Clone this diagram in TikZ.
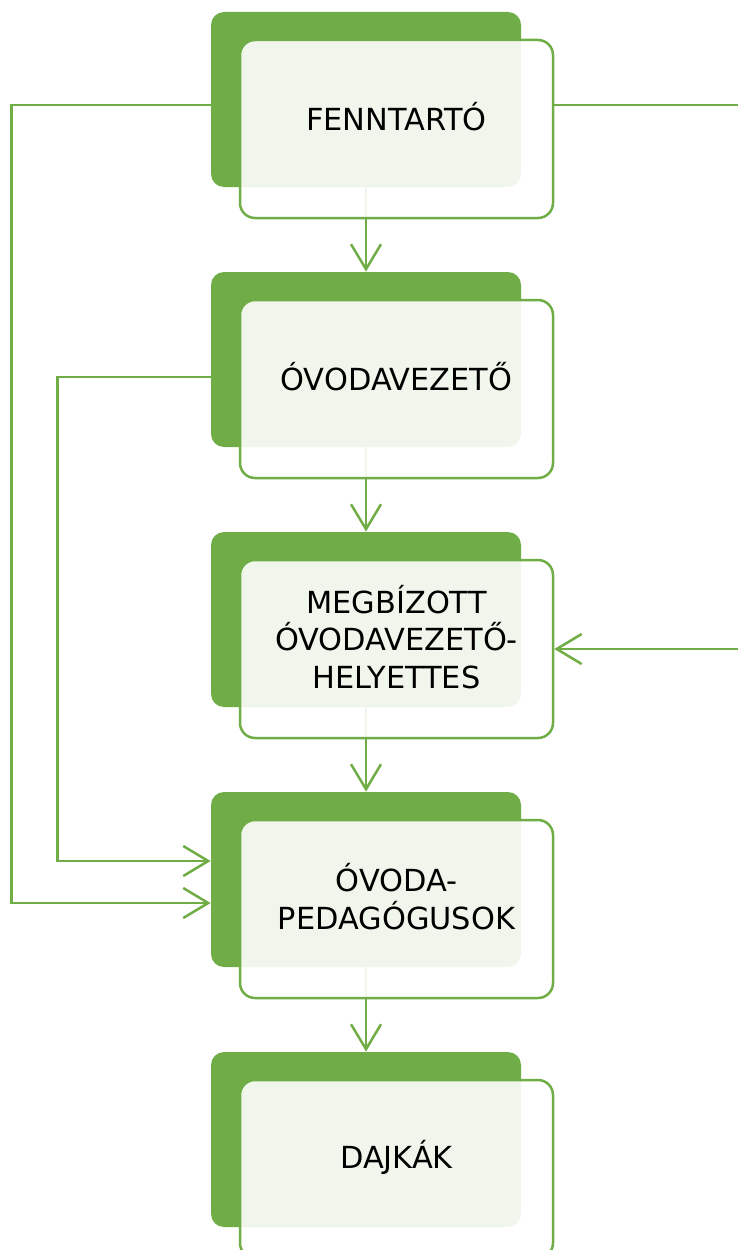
\documentclass[tikz,border=0pt]{standalone}
\usepackage{fontspec}
\setmainfont{DejaVu Sans}
\usepackage{tikz}
\usetikzlibrary{arrows.meta, positioning}
\definecolor{ogreen}{HTML}{70AD47}
\tikzstyle{back} = [rectangle, rounded corners=0.26cm, minimum width=6.2cm, minimum height=3.5cm, inner sep=0pt, fill=ogreen]
\tikzstyle{outbox} = [rectangle, rounded corners=0.3cm, minimum width=6.26cm, minimum height=3.56cm, inner sep=0pt, draw=ogreen, line width=0.05cm, fill=white, fill opacity=0.9]
\tikzstyle{txt} = [align=center, font=\fontsize{17.3}{21.5}\selectfont, text=black]
\tikzstyle{arrow} = [draw=ogreen, line width=0.05cm, -{Straight Barb[length=0.5cm, width=0.6cm, line width=0.05cm]}]

\begin{document}
\begin{tikzpicture}[node distance=5.2cm]
    \useasboundingbox (0,0) rectangle (14.74,-25);
    \node (back1) [back] at (7.32,-1.99) {};
    \node (back2) [back, below of=back1] {};
    \node (back3) [back, below of=back2] {};
    \node (back4) [back, below of=back3] {};
    \node (back5) [back, below of=back4] {};

    \draw [arrow] (back1.south) -- (back2.north);
    \draw [arrow] (back2.south) -- (back3.north);
    \draw [arrow] (back3.south) -- (back4.north);
    \draw [arrow] (back4.south) -- (back5.north);

    \node (pro1) [outbox] at ([xshift=0.61cm,yshift=-0.59cm]back1.center) {};
    \node (pro2) [outbox] at ([xshift=0.61cm,yshift=-0.59cm]back2.center) {};
    \node (pro3) [outbox] at ([xshift=0.61cm,yshift=-0.59cm]back3.center) {};
    \node (pro4) [outbox] at ([xshift=0.61cm,yshift=-0.59cm]back4.center) {};
    \node (pro5) [outbox] at ([xshift=0.61cm,yshift=-0.59cm]back5.center) {};

    \node (txt1) [txt] at ([yshift=0.24cm]pro1.center) {FENNTARTÓ};
    \node (txt2) [txt] at ([yshift=0.24cm]pro2.center) {ÓVODAVEZETŐ};
    \node (txt3) [txt] at ([yshift=0.24cm]pro3.center) {MEGBÍZOTT\\ÓVODAVEZETŐ-\\HELYETTES};
    \node (txt4) [txt] at ([yshift=0.24cm]pro4.center) {ÓVODA-\\PEDAGÓGUSOK};
    \node (txt5) [txt] at ([yshift=0.24cm]pro5.center) {DAJKÁK};

    \draw [arrow] ([yshift=-0.11cm]back1.west) -- ++(-3.98,0) |- ([yshift=-0.47cm]back4.west);
    \draw [arrow] ([yshift=-0.35cm]back2.west) -- ++(-3.06,0) |- ([yshift=0.37cm]back4.west);
    \draw [arrow] ([yshift=0.48cm]pro1.east) -- ++(3.8,0) |- (pro3.east);
\end{tikzpicture}
\end{document}
